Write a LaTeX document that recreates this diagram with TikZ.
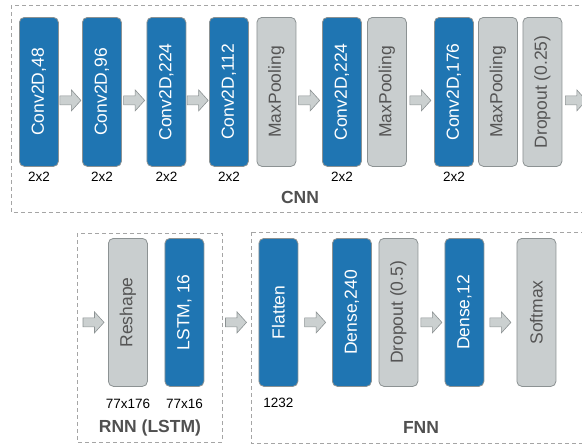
\documentclass[tikz,border=0pt]{standalone}
\usepackage{fontspec}
\setmainfont{Liberation Sans}
\usetikzlibrary{calc}
\definecolor{lblue}{RGB}{31,117,178}
\definecolor{lgray}{RGB}{201,206,207}
\definecolor{lborder}{RGB}{140,146,147}
\definecolor{afill}{RGB}{203,208,208}
\definecolor{dashc}{RGB}{165,165,165}
\definecolor{gtext}{RGB}{85,85,85}
\definecolor{ltext}{RGB}{80,80,80}
\tikzset{
  layer/.style={rounded corners=5pt, minimum width=39pt, inner sep=0pt, anchor=north west,
                draw=lborder, line width=0.8pt, font=\fontsize{17.5}{18}\selectfont},
  bluebox/.style={layer, fill=lblue, text=white},
  graybox/.style={layer, fill=lgray, text=gtext},
  toprow/.style={minimum height=149pt},
  botrow/.style={minimum height=148pt},
  sizelabel/.style={font=\fontsize{13.5}{14}\selectfont, text=black, inner sep=0pt},
  grouplabel/.style={font=\fontsize{17.5}{18}\selectfont\bfseries, text=ltext, inner sep=0pt},
  groupframe/.style={draw=dashc, line width=0.8pt, dash pattern=on 4pt off 3pt},
  barrow/.pic={\draw[fill=afill, draw=lborder, line width=0.6pt]
     (-10.5,-4.5) -- (1,-4.5) -- (1,-10.5) -- (10.5,0) -- (1,10.5) -- (1,4.5) -- (-10.5,4.5) -- cycle;}
}
\begin{document}
\begin{tikzpicture}[x=1pt,y=-1pt]
\useasboundingbox (0,0) rectangle (582,447);
\clip (0,0) rectangle (582,447);

% group frames
\draw[groupframe] (11,5) rectangle (620,212);
\draw[groupframe] (77,233) rectangle (222,442);
\draw[groupframe] (251,232) rectangle (620,443);

% CNN row
\node[bluebox,toprow] (c1) at (19,17) {\rotatebox{90}{Conv2D,48}};
\node[bluebox,toprow] (c2) at (82,17) {\rotatebox{90}{Conv2D,96}};
\node[bluebox,toprow] (c3) at (146.5,17) {\rotatebox{90}{Conv2D,224}};
\node[bluebox,toprow] (c4) at (209,17) {\rotatebox{90}{Conv2D,112}};
\node[graybox,toprow] (mp1) at (256.5,17) {\rotatebox{90}{MaxPooling}};
\node[bluebox,toprow] (c5) at (322,17) {\rotatebox{90}{Conv2D,224}};
\node[graybox,toprow] (mp2) at (367,17) {\rotatebox{90}{MaxPooling}};
\node[bluebox,toprow] (c6) at (434,17) {\rotatebox{90}{Conv2D,176}};
\node[graybox,toprow] (mp3) at (478,17) {\rotatebox{90}{MaxPooling}};
\node[graybox,toprow] (dr) at (522.5,17) {\rotatebox{90}{Dropout (0.25)}};

\foreach \n in {c1,c2,c3,c4,c5,c6}
  \node[sizelabel] (l\n) at ($(\n.south)+(0,10)$) {2x2};

\pic at ($(c1.east)!0.5!(c2.west)+(0,8.5)$) {barrow};
\pic at ($(c2.east)!0.5!(c3.west)+(0,8.5)$) {barrow};
\pic at ($(c3.east)!0.5!(c4.west)+(0,8.5)$) {barrow};
\pic at ($(mp1.east)!0.5!(c5.west)+(0,8.5)$) {barrow};
\pic at ($(mp2.east)!0.5!(c6.west)+(0,8.5)$) {barrow};
\pic at ($(dr.east)+(13.5,8.5)$) {barrow};

\node[grouplabel] (cnnl) at (300,197) {CNN};

% RNN
\node[graybox,botrow] (rs) at (108,238) {\rotatebox{90}{Reshape}};
\node[bluebox,botrow] (lstm) at (164.5,238) {\rotatebox{90}{LSTM, 16}};
\node[sizelabel] (lrs) at ($(rs.south)+(0,17)$) {77x176};
\node[sizelabel] (llstm) at ($(lstm.south)+(0,17)$) {77x16};
\node[grouplabel] (rnnl) at (150,428) {RNN (LSTM)};
\pic at ($(rs.west)+(-14.5,10)$) {barrow};

% FNN
\node[bluebox,botrow] (fl) at (258.5,238) {\rotatebox{90}{Flatten}};
\node[bluebox,botrow] (d240) at (332,238) {\rotatebox{90}{Dense,240}};
\node[graybox,botrow] (dp) at (378.5,238) {\rotatebox{90}{Dropout (0.5)}};
\node[bluebox,botrow] (d12) at (444.5,238) {\rotatebox{90}{Dense,12}};
\node[graybox,botrow] (sm) at (516.5,238) {\rotatebox{90}{Softmax}};
\node[sizelabel] (lfl) at ($(fl.south)+(0,16)$) {1232};
\node[grouplabel] (fnnl) at (421,427) {FNN};

\pic at ($(lstm.east)!0.585!(fl.west)+(0,10)$) {barrow};
\pic at ($(fl.east)!0.5!(d240.west)+(0,10)$) {barrow};
\pic at ($(dp.east)!0.5!(d12.west)+(0,10)$) {barrow};
\pic at ($(d12.east)!0.5!(sm.west)+(0,10)$) {barrow};
\end{tikzpicture}
\end{document}
